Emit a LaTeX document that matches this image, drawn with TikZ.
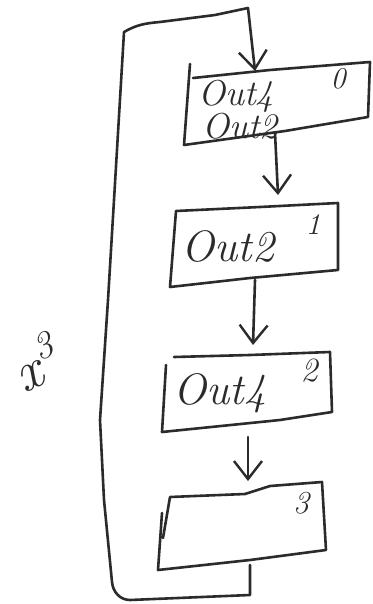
\documentclass[tikz,border=0pt]{standalone}
\usetikzlibrary{arrows.meta}
\definecolor{inkc}{HTML}{2B2B2B}
\begin{document}
\begin{tikzpicture}[x=1pt,y=-1pt,
  ink/.style={draw=inkc, line width=2.6pt, line cap=round, line join=round},
  flow/.style={ink, -{Straight Barb[length=18pt,width=28pt,line width=2.4pt]}},
  hand/.style={text=inkc, inner sep=0pt, font=\fontsize{#1}{#1}\selectfont\itshape},
  hand/.default=44,
  tag/.style={text=inkc, inner sep=0pt, font=\fontsize{#1}{#1}\selectfont\itshape},
  tag/.default=30]
\useasboundingbox (0,0) rectangle (372,604);

% block 0
\draw[ink] (190,64) -- (184,145) -- (285,131) -- (368,117) -- (370,62) -- (270,70) -- (193,78);
\node[hand=36] (t0a) at (236,96) {Out4};
\node[hand=36] (t0b) at (240,126) {Out2};
\node[tag=30] (n0) at (338,79) {0};
\coordinate (b0n) at (255,71);
\coordinate (b0s) at (275,133);

% block 1
\draw[ink] (176,211) -- (260,207) -- (338,203) -- (338,270) -- (250,278) -- (170,287) -- (176,211);
\node[hand=44] (t1) at (228,246) {Out2};
\node[tag=30] (n1) at (313,225) {1};
\coordinate (b1n) at (278,206);
\coordinate (b1s) at (255,280);

% block 2
\draw[ink] (166,365) -- (162,432) -- (280,420) -- (332,412) -- (330,352) -- (250,355) -- (174,357);
\node[hand=44] (t2) at (220,393) {Out4};
\node[tag=34] (n2) at (309,371) {2};
\coordinate (b2n) at (253,355);
\coordinate (b2s) at (248,437);

% block 3
\draw[ink] (163,538) -- (170,497) -- (245,494) -- (270,486) -- (322,482) -- (326,550) -- (250,560) -- (158,570) -- (162,513);
\node[tag=32] (n3) at (301,503) {3};
\coordinate (b3n) at (248,485);
\coordinate (b3s) at (250,565);

% flow between blocks
\draw[flow] (b0s) -- (278,195);
\draw[flow] (b1s) -- (253,345);
\draw[flow] (b2s) -- (248,481);

% repeat loop
\draw[flow] (b3s) -- (250,595) -- (130,600) to[out=180,in=-85] (112,582)
  -- (104,500) -- (100,420) -- (108,300) -- (114,200) -- (124,32)
  to[out=30,in=185] (160,22) -- (215,15) -- (248,8) -- (b0n);
\node[hand=56, rotate=25] (rep) at (35,362)
  {x\kern2pt\raisebox{0.4em}{\fontsize{38}{38}\selectfont 3}};
\end{tikzpicture}
\end{document}
